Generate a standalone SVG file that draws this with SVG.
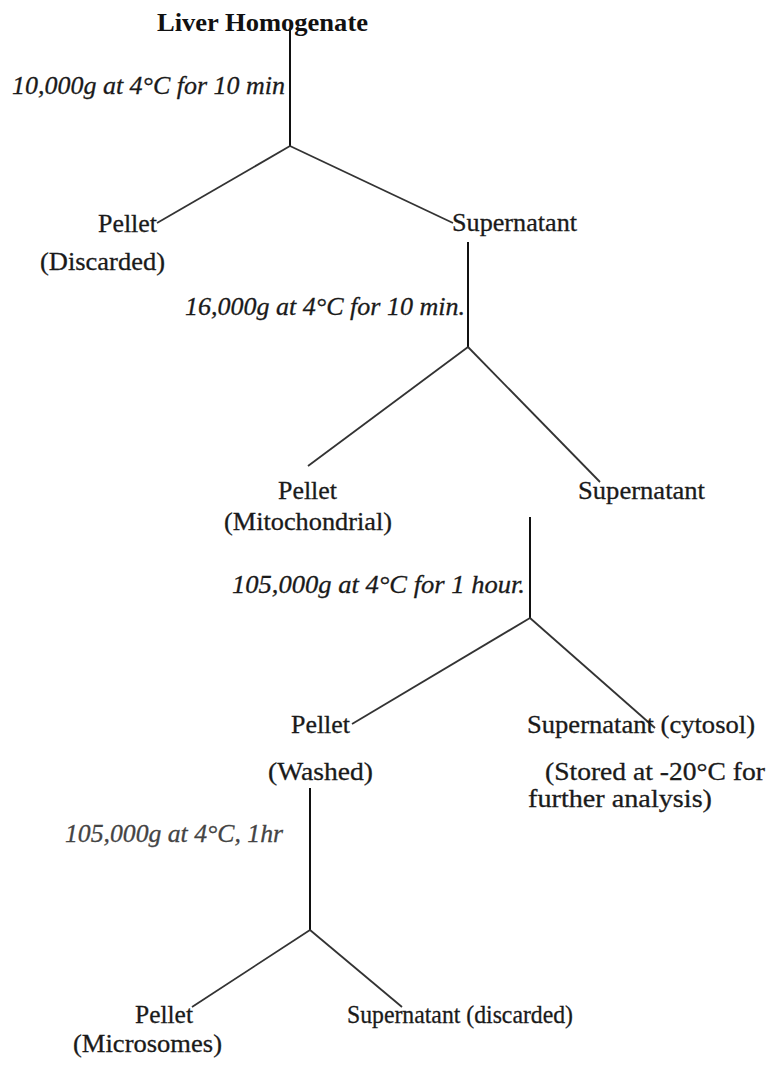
<svg xmlns="http://www.w3.org/2000/svg" width="770" height="1074" viewBox="0 0 770 1074">
<style>
text{font-family:"Liberation Serif","Times New Roman",serif;font-size:26px;fill:#1a1a1a;stroke:#1a1a1a;stroke-width:0.3}
.b{font-weight:bold;fill:#111;stroke:none}
.i{font-style:italic}
.v{stroke:#111;stroke-width:2;fill:none}
.d{stroke:#333;stroke-width:1.8;fill:none}
</style>
<rect width="770" height="1074" fill="#fff"/>
<g id="connectors">
<line class="v" x1="290" y1="28" x2="290" y2="146"/>
<line class="d" x1="290" y1="146" x2="157" y2="223"/>
<line class="d" x1="290" y1="146" x2="453" y2="223"/>
<line class="v" x1="468" y1="242" x2="468" y2="347"/>
<line class="d" x1="468" y1="347" x2="308" y2="466"/>
<line class="d" x1="468" y1="347" x2="600" y2="482"/>
<line class="v" x1="530" y1="517" x2="530" y2="618"/>
<line class="d" x1="530" y1="618" x2="352" y2="724"/>
<line class="d" x1="530" y1="618" x2="655" y2="728"/>
<line class="v" x1="310" y1="788" x2="310" y2="930"/>
<line class="d" x1="310" y1="930" x2="192" y2="1007"/>
<line class="d" x1="310" y1="930" x2="402" y2="1007"/>
</g>
<g id="liver"><text class="b" x="157" y="31" textLength="211" lengthAdjust="spacingAndGlyphs">Liver Homogenate</text></g>
<g id="step1"><text class="i" x="12" y="94" textLength="273" lengthAdjust="spacingAndGlyphs">10,000g at 4°C for 10 min</text></g>
<g id="pellet1"><text x="98" y="232" textLength="59" lengthAdjust="spacingAndGlyphs">Pellet</text><text x="40" y="270" textLength="125" lengthAdjust="spacingAndGlyphs">(Discarded)</text></g>
<g id="super1"><text x="452" y="231" textLength="125" lengthAdjust="spacingAndGlyphs">Supernatant</text></g>
<g id="step2"><text class="i" x="185" y="315" textLength="280" lengthAdjust="spacingAndGlyphs">16,000g at 4°C for 10 min.</text></g>
<g id="pellet2"><text x="278" y="499" textLength="59" lengthAdjust="spacingAndGlyphs">Pellet</text><text x="224" y="530" textLength="168" lengthAdjust="spacingAndGlyphs">(Mitochondrial)</text></g>
<g id="super2"><text x="578" y="499" textLength="127" lengthAdjust="spacingAndGlyphs">Supernatant</text></g>
<g id="step3"><text class="i" x="232" y="593" textLength="293" lengthAdjust="spacingAndGlyphs">105,000g at 4°C for 1 hour.</text></g>
<g id="pellet3"><text x="291" y="733" textLength="59" lengthAdjust="spacingAndGlyphs">Pellet</text><text x="268" y="780" textLength="105" lengthAdjust="spacingAndGlyphs">(Washed)</text></g>
<g id="super3"><text x="527" y="733" textLength="228" lengthAdjust="spacingAndGlyphs">Supernatant (cytosol)</text><text x="545" y="780" textLength="220" lengthAdjust="spacingAndGlyphs">(Stored at -20°C for</text><text x="528" y="807" textLength="184" lengthAdjust="spacingAndGlyphs">further analysis)</text></g>
<g id="step4"><text class="i" x="65" y="842" textLength="218" lengthAdjust="spacingAndGlyphs" style="fill:#444;stroke:#444">105,000g at 4°C, 1hr</text></g>
<g id="pellet4"><text x="135" y="1023" textLength="58" lengthAdjust="spacingAndGlyphs">Pellet</text><text x="73" y="1052" textLength="149" lengthAdjust="spacingAndGlyphs">(Microsomes)</text></g>
<g id="super4"><text x="347" y="1023" textLength="226" lengthAdjust="spacingAndGlyphs">Supernatant (discarded)</text></g>
</svg>
